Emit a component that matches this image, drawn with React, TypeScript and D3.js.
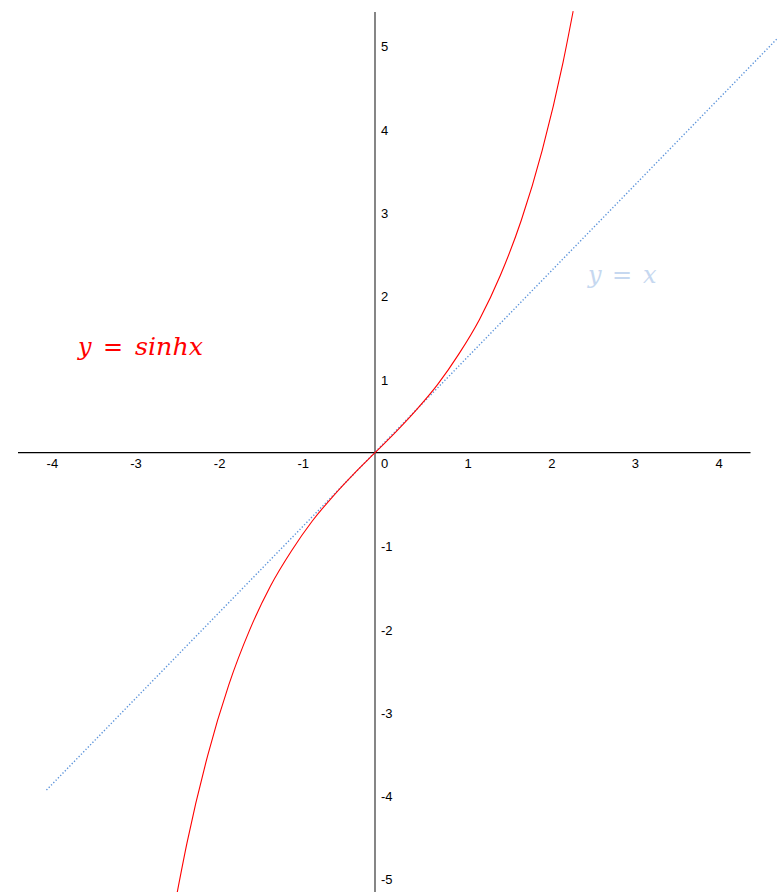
import React from "react";
import * as d3 from "d3";

const xTicks = [-4, -3, -2, -1, 0, 1, 2, 3, 4];
const yTicks = [-5, -4, -3, -2, -1, 1, 2, 3, 4, 5];

// sinh curve points
const sinhX = [-2.37, -2.25, -2, -1.75, -1.5, -1.25, -1, -0.75, -0.5, -0.25, 0, 0.25, 0.5, 0.75, 1, 1.25, 1.5, 1.75, 2, 2.25, 2.37];
const sinhY = [-5.3, -4.69, -3.63, -2.79, -2.13, -1.6, -1.18, -0.82, -0.52, -0.25, 0, 0.25, 0.52, 0.82, 1.18, 1.6, 2.13, 2.79, 3.63, 4.69, 5.3];

// dotted y = x line end points
const lineX = [-3.93, 4.82];
const lineY = [-4.05, 4.98];

const W = 778;
const H = 892;

export default function App() {
  const ox = 375;
  const oy = 452.7;
  const x = d3.scaleLinear().domain([-4, 4]).range([ox - 4 * 83.6, ox + 4 * 83.6]);
  const y = d3.scaleLinear().domain([-5, 5]).range([oy + 5 * 83.3, oy - 5 * 83.3]);

  const sinhPts: [number, number][] = sinhX.map((v, i) => [v, sinhY[i]]);
  const linePts: [number, number][] = lineX.map((v, i) => [v, lineY[i]]);

  const curve = d3
    .line<[number, number]>()
    .x((d) => x(d[0]))
    .y((d) => y(d[1]))
    .curve(d3.curveMonotoneX);
  const straight = d3
    .line<[number, number]>()
    .x((d) => x(d[0]))
    .y((d) => y(d[1]));

  const font = "'Liberation Sans', Arial, sans-serif";
  const mathFont = "'DejaVu Serif', serif";

  return (
    <svg
      width={W}
      height={H}
      style={{ position: "absolute", left: 0, top: 0, background: "#fff" }}
    >
      <rect x={0} y={0} width={W} height={H} fill="#fff" />
      {/* axes */}
      <line x1={18} x2={750.5} y1={oy} y2={oy} stroke="#000" strokeWidth={1.3} />
      <line x1={ox} x2={ox} y1={12} y2={H} stroke="#444" strokeWidth={1.3} />

      {/* x tick labels */}
      {xTicks.map((t) => (
        <text key={"x" + t} x={x(t) + 6} y={oy + 15.2} fontFamily={font} fontSize={13} fill="#000">
          {t}
        </text>
      ))}
      {/* y tick labels */}
      {yTicks.map((t) => (
        <text key={"y" + t} x={ox + 6} y={y(t) + 15.2} fontFamily={font} fontSize={13} fill="#000">
          {t}
        </text>
      ))}

      {/* y = x dotted */}
      <path
        d={straight(linePts) || ""}
        fill="none"
        stroke="#5b93da"
        strokeWidth={1.4}
        strokeDasharray="1.3,2"
      />
      {/* sinh */}
      <path d={curve(sinhPts) || ""} fill="none" stroke="#ff0000" strokeWidth={1.1} />

      {/* labels */}
      <text y={355} fontFamily={mathFont} fontSize={24} fill="#ff0000">
        <tspan x={78} fontStyle="italic">y</tspan>
        <tspan x={103}>=</tspan>
        <tspan x={135} fontStyle="italic" textLength={68} lengthAdjust="spacingAndGlyphs">sinhx</tspan>
      </text>
      <text y={283} fontFamily={mathFont} fontSize={24} fill="#c6d8f0">
        <tspan x={588} fontStyle="italic">y</tspan>
        <tspan x={612}>=</tspan>
        <tspan x={643} fontStyle="italic">x</tspan>
      </text>
    </svg>
  );
}
